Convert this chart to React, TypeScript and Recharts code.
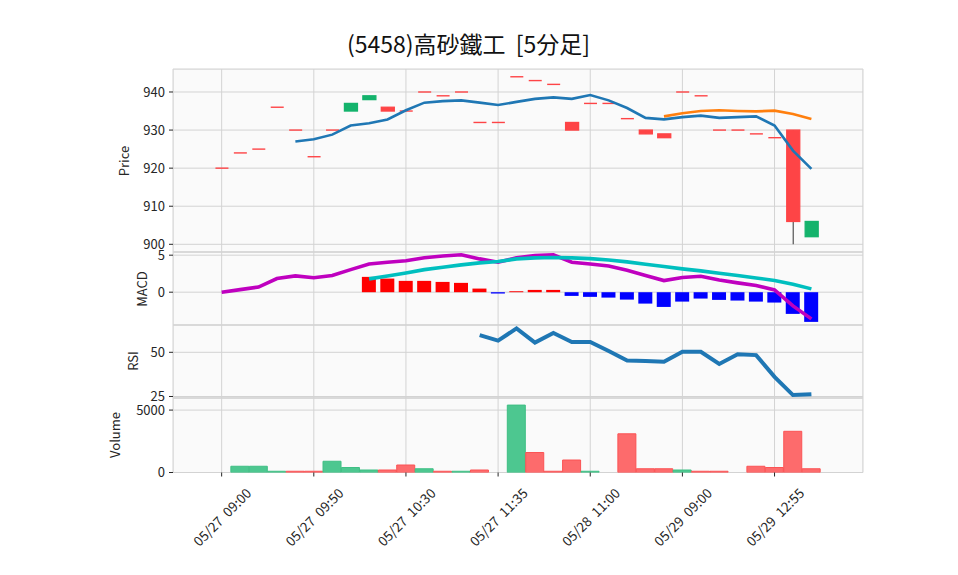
import { ComposedChart, Bar, Line, XAxis, YAxis, CartesianGrid, Cell } from 'recharts';

// x tick positions (candle index) and their labels
const tickIdx = [0, 5, 10, 15, 20, 25, 30];
const tickLabels = [
  '05/27  09:00',
  '05/27  09:50',
  '05/27  10:30',
  '05/27  11:35',
  '05/28  11:00',
  '05/29  09:00',
  '05/29  12:55',
];

// 5-minute candles
const opens = [920, 924, 925, 936, 930, 923, 930, 935, 938, 936, 935, 940, 939, 940, 932, 932, 944, 943, 942, 932, 937, 937, 933, 930, 929, 940, 939, 930, 930, 929, 928, 930, 902];
const closes = [920, 924, 925, 936, 930, 923, 930, 937, 939, 935, 935, 940, 939, 940, 932, 932, 944, 943, 942, 930, 937, 937, 933, 929, 928, 940, 939, 930, 930, 929, 928, 906, 906];
const highs = [920, 924, 925, 936, 930, 923, 930, 937, 939, 936, 935, 940, 939, 940, 932, 932, 944, 943, 942, 932, 937, 937, 933, 930, 929, 940, 939, 930, 930, 929, 928, 930, 906];
const lows = [920, 924, 925, 936, 930, 923, 930, 935, 938, 935, 935, 940, 939, 940, 932, 932, 944, 943, 942, 930, 937, 937, 933, 929, 928, 940, 939, 930, 930, 929, 928, 900, 902];

const ma5 = [null, null, null, null, 927.0, 927.6, 928.8, 931.2, 931.8, 932.8, 935.2, 937.2, 937.6, 937.8, 937.2, 936.6, 937.4, 938.2, 938.6, 938.2, 939.2, 937.8, 935.8, 933.2, 932.8, 933.4, 933.8, 933.2, 933.4, 933.6, 931.2, 924.6, 919.8];
const ma25 = [null, null, null, null, null, null, null, null, null, null, null, null, null, null, null, null, null, null, null, null, null, null, null, null, 933.6, 934.4, 935.0, 935.2, 935.0, 934.9, 935.1, 934.2, 932.9];

const macd = [0.0, 0.35, 0.7, 1.85, 2.2, 1.95, 2.25, 3.05, 3.8, 4.05, 4.25, 4.65, 4.9, 5.05, 4.5, 4.05, 4.65, 4.95, 5.05, 4.05, 3.82, 3.55, 2.97, 2.25, 1.57, 1.98, 2.16, 1.66, 1.26, 0.9, 0.31, -1.85, -3.6];
const signal = [null, null, null, null, null, null, null, null, 1.8, 2.2, 2.6, 3.05, 3.38, 3.69, 3.96, 4.14, 4.5, 4.64, 4.68, 4.64, 4.54, 4.36, 4.1, 3.78, 3.46, 3.15, 2.88, 2.57, 2.25, 1.93, 1.57, 1.08, 0.45];
const hist = [null, null, null, null, null, null, null, null, 2.07, 1.84, 1.53, 1.53, 1.39, 1.26, 0.49, -0.18, 0.13, 0.31, 0.31, -0.5, -0.63, -0.73, -1.0, -1.54, -1.99, -1.27, -0.86, -1.04, -1.13, -1.27, -1.4, -2.93, -4.01];

const rsi = [null, null, null, null, null, null, null, null, null, null, null, null, null, null, 59.7, 56.6, 63.5, 55.5, 60.9, 55.8, 55.8, 50.7, 45.3, 45.1, 44.6, 50.3, 50.3, 43.4, 48.9, 48.4, 36.1, 25.8, 26.3];

const volume = [0, 500, 500, 100, 100, 100, 900, 400, 200, 200, 600, 300, 100, 100, 200, 0, 5400, 1600, 100, 1000, 100, 0, 3100, 300, 300, 200, 100, 100, 0, 500, 400, 3300, 300];

const rows = closes.map((c, i) => ({
  i,
  range: [lows[i], highs[i]],
  open: opens[i],
  close: c,
  high: highs[i],
  low: lows[i],
  ma5: ma5[i],
  ma25: ma25[i],
  macd: macd[i],
  signal: signal[i],
  hist: hist[i],
  rsi: rsi[i],
  vol: volume[i],
}));

const W = 958;
const PLOT_L = 173;
const PLOT_R = 863;
const Y_W = 60;
const PAD = 14;
const X_DOMAIN = [-2.64, 34.8];
const FONT = '"Noto Sans CJK JP", "Noto Sans", sans-serif';
const TXT = '#262626';
const GRID = '#d3d3d3';

const UP = '#14b36c';
const DOWN = '#fe4446';
const VOL_UP = '#4dc790';
const VOL_DOWN = '#fd6b6c';

const panels = {
  price: { top: 69, h: 183 },
  macd: { top: 252, h: 73 },
  rsi: { top: 325, h: 73 },
  vol: { top: 398, h: 74.5 },
};

// body + wick; with a zero range (doji) minPointSize lifts the bar by 1px,
// so the true price level is at y + height
const Candle = (props: any) => {
  const { x, y, width, height, payload } = props;
  const { open, close, high, low } = payload;
  const color = close > open ? UP : DOWN;
  const span = high - low;
  const cx = x + width / 2;
  if (span === 0) {
    const ly = y + height;
    return <line x1={x} x2={x + width} y1={ly} y2={ly} stroke={color} strokeWidth={1.4} />;
  }
  const toY = (v: number) => y + (height * (high - v)) / span;
  const top = toY(Math.max(open, close));
  const bot = toY(Math.min(open, close));
  return (
    <g>
      <line x1={cx} x2={cx} y1={y} y2={y + height} stroke="#606060" strokeWidth={1.3} />
      <rect x={x} y={top} width={width} height={Math.max(bot - top, 0)} fill={color} stroke={color} strokeWidth={1.3} />
    </g>
  );
};

const DateTick = (props: any) => {
  const { x, y, payload } = props;
  const label = tickLabels[tickIdx.indexOf(payload.value)];
  const cy = y + 38;
  return (
    <text
      x={x}
      y={cy}
      textAnchor="middle"
      dominantBaseline="central"
      transform={`rotate(-45 ${x} ${cy})`}
      fontSize={13.5}
      fill={TXT}
      xmlSpace="preserve"
      style={{ whiteSpace: 'pre' }}
    >
      {label}
    </text>
  );
};

const yAxisProps = {
  width: Y_W,
  axisLine: false,
  tickSize: 4,
  tickMargin: 4,
  tickLine: { stroke: TXT },
  tick: { fontSize: 13, fill: TXT },
  allowDataOverflow: true,
  interval: 0 as const,
};

function Frame({ top, h }: { top: number; h: number }) {
  return (
    <div
      style={{
        position: 'absolute',
        left: PLOT_L,
        top,
        width: PLOT_R - PLOT_L,
        height: h,
        background: '#fafafa',
        boxShadow: 'inset 0 0 0 1px #ebebeb',
      }}
    />
  );
}

function HiddenX() {
  return <XAxis type="number" dataKey="i" domain={X_DOMAIN} ticks={tickIdx} interval={0} allowDataOverflow hide />;
}

export default function App() {
  const margin = { top: PAD, bottom: PAD, left: PLOT_L - Y_W, right: W - PLOT_R };
  return (
    <div style={{ position: 'absolute', left: 0, top: 0, width: W, height: 575, background: '#fff', fontFamily: FONT }}>
      {Object.values(panels).map((p, k) => (
        <Frame key={k} top={p.top} h={p.h} />
      ))}

      <div style={{ position: 'absolute', left: 0, top: panels.price.top - PAD }}>
        <ComposedChart width={W} height={panels.price.h + 2 * PAD} data={rows} margin={margin}>
          <CartesianGrid stroke={GRID} strokeWidth={1} />
          {HiddenX()}
          <YAxis {...yAxisProps} domain={[897.98, 946.04]} ticks={[900, 910, 920, 930, 940]} />
          <Bar dataKey="range" barSize={13} minPointSize={1} shape={<Candle />} isAnimationActive={false} />
          <Line dataKey="ma5" stroke="#1f77b4" strokeWidth={2.6} dot={false} isAnimationActive={false} />
          <Line dataKey="ma25" stroke="#ff7f0e" strokeWidth={2.6} dot={false} isAnimationActive={false} />
        </ComposedChart>
      </div>

      <div style={{ position: 'absolute', left: 0, top: panels.macd.top - PAD }}>
        <ComposedChart width={W} height={panels.macd.h + 2 * PAD} data={rows} margin={margin}>
          <CartesianGrid stroke={GRID} strokeWidth={1} />
          {HiddenX()}
          <YAxis {...yAxisProps} domain={[-4.43, 5.43]} ticks={[0, 5]} />
          <Bar dataKey="hist" barSize={14} isAnimationActive={false}>
            {rows.map((r, k) => (
              <Cell key={k} fill={(r.hist ?? 0) >= 0 ? '#ff0000' : '#0000ff'} />
            ))}
          </Bar>
          <Line dataKey="macd" stroke="#bf00bf" strokeWidth={3.6} dot={false} isAnimationActive={false} />
          <Line dataKey="signal" stroke="#00bfbf" strokeWidth={3.6} dot={false} isAnimationActive={false} />
        </ComposedChart>
      </div>

      <div style={{ position: 'absolute', left: 0, top: panels.rsi.top - PAD }}>
        <ComposedChart width={W} height={panels.rsi.h + 2 * PAD} data={rows} margin={margin}>
          <CartesianGrid stroke={GRID} strokeWidth={1} />
          {HiddenX()}
          <YAxis {...yAxisProps} domain={[24.15, 65.44]} ticks={[25, 50]} />
          <Line dataKey="rsi" stroke="#1f77b4" strokeWidth={4} dot={false} isAnimationActive={false} />
        </ComposedChart>
      </div>

      <div style={{ position: 'absolute', left: 0, top: panels.vol.top - PAD }}>
        <ComposedChart width={W} height={panels.vol.h + PAD + 100} data={rows} margin={{ ...margin, bottom: 0 }}>
          <CartesianGrid stroke={GRID} strokeWidth={1} />
          <XAxis
            type="number"
            dataKey="i"
            domain={X_DOMAIN}
            ticks={tickIdx}
            interval={0}
            allowDataOverflow
            height={100}
            axisLine={false}
            tickSize={4}
            tickMargin={2}
            tickLine={{ stroke: TXT }}
            tick={<DateTick />}
          />
          <YAxis {...yAxisProps} domain={[0, 5968]} ticks={[0, 5000]} />
          <Bar dataKey="vol" barSize={18} isAnimationActive={false}>
            {rows.map((r, k) => {
              const up = k > 0 && r.close > closes[k - 1];
              return <Cell key={k} fill={up ? VOL_UP : VOL_DOWN} stroke={up ? '#3fbf84' : '#fb5354'} strokeWidth={1} />;
            })}
          </Bar>
        </ComposedChart>
      </div>

      <svg width={W} height={575} style={{ position: 'absolute', left: 0, top: 0, pointerEvents: 'none' }}>
        <text x={468.5} y={53} textAnchor="middle" fontSize={23} fill="#111" xmlSpace="preserve" style={{ whiteSpace: 'pre' }}>
          {'(5458)高砂鐵工  [5分足]'}
        </text>
        <text x={123.5} y={161} textAnchor="middle" dominantBaseline="central" fontSize={13} fill={TXT} transform="rotate(-90 123.5 161)">
          Price
        </text>
        <text x={141} y={289} textAnchor="middle" dominantBaseline="central" fontSize={13} fill={TXT} transform="rotate(-90 141 289)">
          MACD
        </text>
        <text x={132} y={361} textAnchor="middle" dominantBaseline="central" fontSize={13} fill={TXT} transform="rotate(-90 132 361)">
          RSI
        </text>
        <text x={114} y={435} textAnchor="middle" dominantBaseline="central" fontSize={13} fill={TXT} transform="rotate(-90 114 435)">
          Volume
        </text>
      </svg>
    </div>
  );
}
